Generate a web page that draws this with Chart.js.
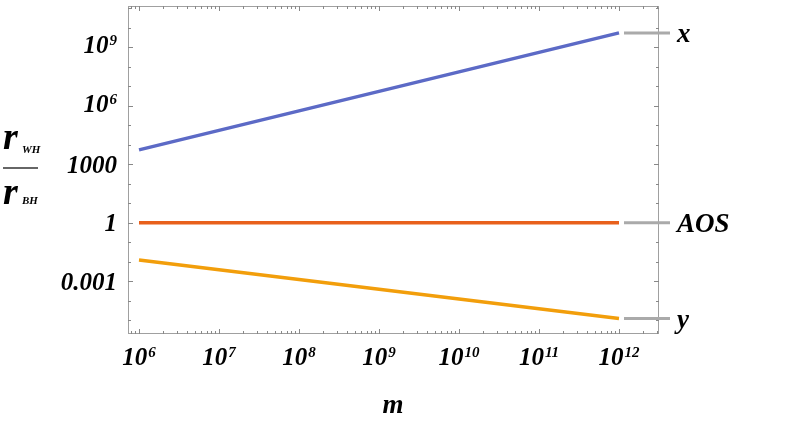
<!DOCTYPE html>
<html>
<head>
<meta charset="utf-8">
<script src="https://cdn.jsdelivr.net/npm/chart.js@4.4.0/dist/chart.umd.min.js"></script>
<style>
  html, body { margin: 0; padding: 0; background: #fff; }
  #wrap { width: 789px; height: 422px; }
</style>
</head>
<body>
<div id="wrap"><canvas id="c"></canvas></div>
<script>
// data
const mValues = [1e6, 1e7, 1e8, 1e9, 1e10, 1e11, 1e12];
const xRatio = [5.5e3, 5.5e4, 5.5e5, 5.5e6, 5.5e7, 5.5e8, 5.5e9];
const aosRatio = [1, 1, 1, 1, 1, 1, 1];
const yRatio = [0.0123, 0.0039, 0.00123, 3.9e-4, 1.23e-4, 3.9e-5, 1.23e-5];
const seriesNames = ['x', 'AOS', 'y'];
const xTickExps = [6, 7, 8, 9, 10, 11, 12];
const yTickLabels = ['0.001', '1', '1000', '10^6', '10^9'];
const yTickValues = [1e-3, 1, 1e3, 1e6, 1e9];

const colors = ['#5c6ac6', '#e8601c', '#f29e0b'];
const FONT = '"Liberation Serif", "Times New Roman", serif';

function pts(ys) {
    return mValues.map((m, i) => ({ x: m, y: ys[i] }));
}

// draws "10" with a raised exponent, or a plain number
function drawNum(ctx, text, x, y, align, big, small) {
    let base = text, exp = null;
    if (text.indexOf('^') >= 0) {
        base = text.split('^')[0];
        exp = text.split('^')[1];
    }
    ctx.font = 'italic bold ' + big + 'px ' + FONT;
    const wb = ctx.measureText(base).width;
    let we = 0;
    if (exp) {
        ctx.font = 'italic bold ' + small + 'px ' + FONT;
        we = ctx.measureText(exp).width + 1;
    }
    const total = wb + we;
    let x0 = x;
    if (align === 'center') x0 = x - total / 2;
    if (align === 'right') x0 = x - total;
    ctx.textAlign = 'left';
    ctx.textBaseline = 'alphabetic';
    ctx.font = 'italic bold ' + big + 'px ' + FONT;
    ctx.fillText(base, x0, y);
    if (exp) {
        ctx.font = 'italic bold ' + small + 'px ' + FONT;
        ctx.fillText(exp, x0 + wb + 1, y - 8);
    }
}

const framePlugin = {
    id: 'frame',
    afterDraw(chart) {
        const ctx = chart.ctx;
        const a = chart.chartArea;
        const xs = chart.scales.x, ys = chart.scales.y;
        ctx.save();
        ctx.strokeStyle = '#a0a0a0';
        ctx.lineWidth = 1;
        ctx.strokeRect(a.left + 0.5, a.top + 0.5, a.right - a.left - 1, a.bottom - a.top - 1);

        // x ticks: decades major, 2..9 minor, on bottom and top
        ctx.strokeStyle = '#888';
        const lo = Math.floor(Math.log10(xs.min)), hi = Math.ceil(Math.log10(xs.max));
        for (let e = lo; e <= hi; e++) {
            for (let k = 1; k <= 9; k++) {
                const v = k * Math.pow(10, e);
                if (v < xs.min || v > xs.max) continue;
                const px = Math.round(xs.getPixelForValue(v)) + 0.5;
                const len = k === 1 ? 5 : 3;
                ctx.beginPath();
                ctx.moveTo(px, a.bottom); ctx.lineTo(px, a.bottom - len);
                ctx.moveTo(px, a.top); ctx.lineTo(px, a.top + len);
                ctx.stroke();
            }
        }
        // y ticks: each decade, labelled ones longer
        const ylo = Math.ceil(Math.log10(ys.min)), yhi = Math.floor(Math.log10(ys.max));
        for (let e = ylo; e <= yhi; e++) {
            const py = Math.round(ys.getPixelForValue(Math.pow(10, e))) + 0.5;
            const len = e % 3 === 0 ? 5 : 3;
            ctx.beginPath();
            ctx.moveTo(a.left, py); ctx.lineTo(a.left + len, py);
            ctx.moveTo(a.right, py); ctx.lineTo(a.right - len, py);
            ctx.stroke();
        }

        // tick labels
        ctx.fillStyle = '#000';
        xTickExps.forEach(e => {
            const px = xs.getPixelForValue(Math.pow(10, e));
            drawNum(ctx, '10^' + e, px, a.bottom + 31, 'center', 25, 15);
        });
        yTickValues.forEach((v, i) => {
            const py = ys.getPixelForValue(v);
            const lab = yTickLabels[i];
            const off = lab.indexOf('^') >= 0 ? 6 : 8.5;
            drawNum(ctx, lab, 117, py + off, 'right', 25, 15);
        });

        // axis title m
        ctx.font = 'italic bold 27px ' + FONT;
        ctx.textAlign = 'center';
        ctx.fillText('m', 393, 413);

        // y title r_WH / r_BH
        ctx.textAlign = 'left';
        ctx.font = 'italic bold 38px ' + FONT;
        ctx.fillText('r', 3, 149);
        ctx.fillText('r', 3, 204);
        ctx.font = 'italic bold 11px ' + FONT;
        ctx.fillText('WH', 22, 153);
        ctx.fillText('BH', 22, 204);
        ctx.strokeStyle = '#333';
        ctx.lineWidth = 1.3;
        ctx.beginPath();
        ctx.moveTo(3, 168); ctx.lineTo(38, 168);
        ctx.stroke();

        // series labels on the right
        const sets = [xRatio, aosRatio, yRatio];
        sets.forEach((arr, i) => {
            const last = arr[arr.length - 1];
            const py = ys.getPixelForValue(last);
            const px = xs.getPixelForValue(mValues[mValues.length - 1]);
            ctx.strokeStyle = '#aaaaaa';
            ctx.lineWidth = 3;
            ctx.beginPath();
            ctx.moveTo(px + 5, py); ctx.lineTo(px + 51, py);
            ctx.stroke();
            ctx.fillStyle = '#000';
            ctx.font = 'italic bold 27px ' + FONT;
            ctx.textAlign = 'left';
            ctx.fillText(seriesNames[i], px + 58, py + 9);
        });
        ctx.restore();
    }
};

new Chart(document.getElementById('c'), {
    type: 'line',
    data: {
        datasets: [
            { label: seriesNames[0], data: pts(xRatio), borderColor: colors[0] },
            { label: seriesNames[1], data: pts(aosRatio), borderColor: colors[1] },
            { label: seriesNames[2], data: pts(yRatio), borderColor: colors[2] }
        ]
    },
    options: {
        responsive: true,
        maintainAspectRatio: false,
        animation: false,
        layout: { padding: { left: 0, top: 6, right: 130, bottom: 0 } },
        elements: {
            point: { radius: 0 },
            line: { borderWidth: 3.5, borderCapStyle: 'butt', tension: 0 }
        },
        scales: {
            x: {
                type: 'logarithmic',
                min: Math.pow(10, 5.8625),
                max: Math.pow(10, 12.5),
                grid: { display: false },
                border: { display: false },
                ticks: { display: false },
                afterFit(s) { s.height = 88; }
            },
            y: {
                type: 'logarithmic',
                min: Math.pow(10, -5.7),
                max: Math.pow(10, 11.12),
                grid: { display: false },
                border: { display: false },
                ticks: { display: false },
                afterFit(s) { s.width = 128; }
            }
        },
        plugins: {
            legend: { display: false },
            tooltip: { enabled: false }
        }
    },
    plugins: [framePlugin]
});
</script>
</body>
</html>
